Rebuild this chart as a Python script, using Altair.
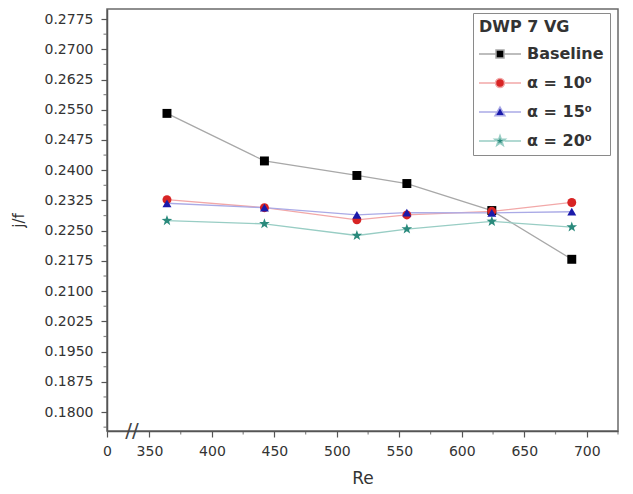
import altair as alt
import pandas as pd

# ---- data ----
re_vals = [364, 442, 516, 556, 624, 688]
baseline = [0.2541, 0.2423, 0.2387, 0.2367, 0.2300, 0.2179]
alpha10 = [0.2327, 0.2307, 0.2277, 0.2289, 0.2298, 0.2320]
alpha15 = [0.2318, 0.2307, 0.2289, 0.2295, 0.2294, 0.2297]
alpha20 = [0.2275, 0.2267, 0.2238, 0.2254, 0.2273, 0.2259]

series_names = ["Baseline", "\u03b1 = 10\u2070", "\u03b1 = 15\u2070", "\u03b1 = 20\u2070"]
series_values = [baseline, alpha10, alpha15, alpha20]

marker_colors = ["#000000", "#d82424", "#1a1aaa", "#2a8a7c"]
line_colors = ["#a8a8a8", "#f2a8a8", "#aaaae6", "#98cdc4"]

x_major = [350, 400, 450, 500, 550, 600, 650, 700]
x_minor = [375, 425, 475, 525, 575, 625, 675, 725]
x_zero_pos = 316
y_major = [0.1800, 0.1875, 0.1950, 0.2025, 0.2100, 0.2175, 0.2250,
           0.2325, 0.2400, 0.2475, 0.2550, 0.2625, 0.2700, 0.2775]
y_minor = [0.17625, 0.18375, 0.19125, 0.19875, 0.20625, 0.21375, 0.22125,
           0.22875, 0.23625, 0.24375, 0.25125, 0.25875, 0.26625, 0.27375]

x_domain = [316, 725]
y_domain = [0.1753, 0.2800]
break_x = 336

rows = []
for name, vals in zip(series_names, series_values):
    for r, v in zip(re_vals, vals):
        rows.append({"Re": r, "val": v, "series": name})
df = pd.DataFrame(rows)

star_pts = [(0, -1), (0.235, -0.324), (0.951, -0.309), (0.380, 0.124), (0.588, 0.809),
            (0, 0.4), (-0.588, 0.809), (-0.380, 0.124), (-0.951, -0.309), (-0.235, -0.324)]


def star_path(s):
    pts = ["%.3f,%.3f" % (x * s, y * s) for x, y in star_pts]
    return "M" + "L".join(pts) + "Z"


data_shapes = ["square", "circle", "triangle-up", star_path(1.25)]
legend_shapes = [
    "M-2.1,0H-0.4M0.4,0H2.1M-0.4,-0.4H0.4V0.4H-0.4Z",
    "M-2.1,0H-0.45M0.45,0H2.1M-0.45,0A0.45,0.45 0 1,0 0.45,0A0.45,0.45 0 1,0 -0.45,0Z",
    "M-2.1,0H-0.3M0.3,0H2.1M0,-0.5L0.5,0.38L-0.5,0.38Z",
    "M-2.1,0H-0.45M0.45,0H2.1" + star_path(0.55),
]

x_scale = alt.Scale(domain=x_domain, nice=False, zero=False)
y_scale = alt.Scale(domain=y_domain, nice=False, zero=False)

x_enc = alt.X(
    "Re:Q",
    scale=x_scale,
    axis=alt.Axis(
        title="Re",
        values=[x_zero_pos] + x_major,
        tickCount=100,
        labelExpr="datum.value < 330 ? '0' : datum.label",
        format="d",
        tickSize=6,
        labelOverlap=False,
        labelFlush=False,
        labelPadding=7,
        titlePadding=12,
        titleFontSize=17,
        titleFontWeight="normal",
        grid=False,
    ),
)
y_enc = alt.Y(
    "val:Q",
    scale=y_scale,
    axis=alt.Axis(
        title="j/f",
        values=y_major,
        tickCount=100,
        format=".4f",
        tickSize=6,
        labelOverlap=False,
        labelFlush=False,
        labelPadding=8,
        titlePadding=18,
        titleFontSize=15,
        titleFontWeight="normal",
        grid=False,
    ),
)

base = alt.Chart(df)

lines = base.mark_line(strokeWidth=1.3).encode(
    x=x_enc, y=y_enc,
    color=alt.Color("series:N", scale=alt.Scale(domain=series_names, range=line_colors), legend=None),
)

points = base.mark_point(filled=True, size=80, opacity=1).encode(
    x=x_enc, y=y_enc,
    color=alt.Color("series:N", scale=alt.Scale(domain=series_names, range=marker_colors), legend=None),
    shape=alt.Shape("series:N", scale=alt.Scale(domain=series_names, range=data_shapes), legend=None),
)

leg = alt.Legend(
    title="DWP 7 VG",
    orient="none",
    legendX=366,
    legendY=4,
    titleFont="DejaVu Sans",
    titleFontSize=16,
    titleFontWeight="bold",
    titleColor="#333333",
    titlePadding=8,
    labelFont="DejaVu Sans",
    labelFontSize=16,
    labelFontWeight="bold",
    labelColor="#333333",
    symbolSize=400,
    symbolStrokeWidth=1.5,
    symbolOpacity=1,
    symbolOffset=10,
    labelOffset=16,
    rowPadding=10,
    padding=6,
    strokeColor="#8a8a8a",
    fillColor="white",
)

legend_layer = base.mark_point(filled=True, size=1, opacity=0).encode(
    x=x_enc, y=y_enc,
    color=alt.Color("series:N", scale=alt.Scale(domain=series_names, range=marker_colors), legend=leg),
    stroke=alt.Stroke("series:N", scale=alt.Scale(domain=series_names, range=line_colors), legend=leg),
    shape=alt.Shape("series:N", scale=alt.Scale(domain=series_names, range=legend_shapes), legend=leg),
)

# minor ticks (outward, shorter) drawn through the same scales
xm = alt.Chart(pd.DataFrame({"Re": x_minor, "val": [y_domain[0]] * len(x_minor)})).mark_tick(
    orient="vertical", size=3, thickness=1.2, color="#555555", yOffset=2
).encode(x=alt.X("Re:Q", scale=x_scale), y=alt.Y("val:Q", scale=y_scale))

ym = alt.Chart(pd.DataFrame({"Re": [x_domain[0]] * len(y_minor), "val": y_minor})).mark_tick(
    orient="horizontal", size=3, thickness=1.2, color="#555555", xOffset=-2
).encode(x=alt.X("Re:Q", scale=x_scale), y=alt.Y("val:Q", scale=y_scale))

break_mark = alt.Chart(pd.DataFrame({"Re": [break_x], "val": [y_domain[0]], "t": ["//"]})).mark_text(
    font="DejaVu Sans", fontSize=20, color="#444444", align="center", baseline="middle"
).encode(
    x=alt.X("Re:Q", scale=x_scale), y=alt.Y("val:Q", scale=y_scale), text="t:N"
)

chart = alt.layer(lines, points, legend_layer, xm, ym, break_mark).resolve_scale(
    color="independent", shape="independent", stroke="independent"
).properties(
    width=511,
    height=422,
    padding={"left": 99, "top": 1, "right": 7, "bottom": 55},
    autosize=alt.AutoSizeParams(type="none"),
    background="white",
).configure_view(
    stroke="#6a6a6a", strokeWidth=1.5
).configure_axis(
    domainColor="#555555",
    domainWidth=1.5,
    tickColor="#555555",
    tickWidth=1.2,
    labelColor="#333333",
    labelFont="DejaVu Sans",
    labelFontSize=14,
    titleColor="#333333",
    titleFont="DejaVu Sans",
)

chart.save("out.html", embed_options={"renderer": "svg", "actions": False})
